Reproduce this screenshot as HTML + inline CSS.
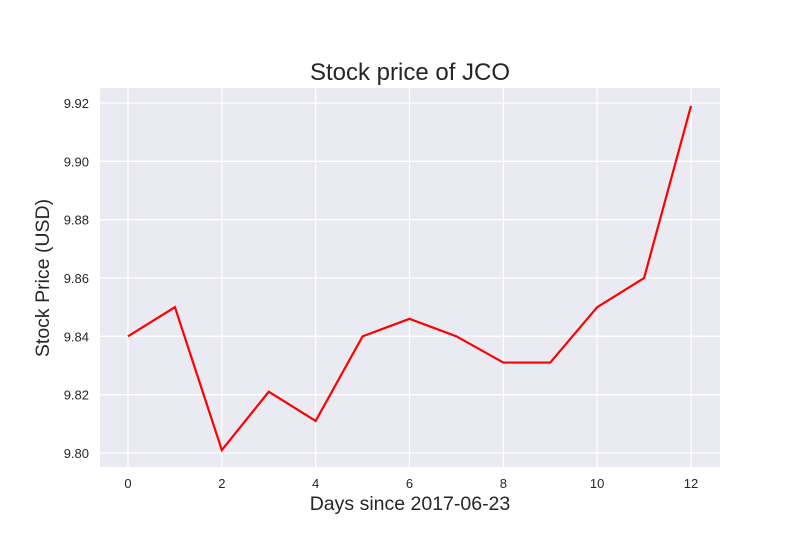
<!DOCTYPE html>
<html><head><meta charset="utf-8"><style>
body{margin:0;background:#fff;font-family:"Liberation Sans",sans-serif}
</style></head><body>
<svg width="800" height="550" xmlns="http://www.w3.org/2000/svg">
<rect x="0" y="0" width="800" height="550" fill="#fff"/>
<rect x="100" y="88" width="620" height="379" fill="#eaeaf2"/>
<g id="grid"></g>
<g id="ticks" font-size="13" fill="#262626"></g>
<polyline id="line" fill="none" stroke="#ff0000" stroke-width="2.2"/>
<text x="410" y="80" text-anchor="middle" font-size="24" fill="#262626">Stock price of JCO</text>
<text x="410" y="510" text-anchor="middle" font-size="19.5" fill="#262626">Days since 2017-06-23</text>
<text transform="translate(49,278) rotate(-90)" text-anchor="middle" font-size="19.5" fill="#262626">Stock Price (USD)</text>
</svg>
<script>
const days=[0,1,2,3,4,5,6,7,8,9,10,11,12];
const prices=[9.840,9.850,9.801,9.821,9.811,9.840,9.846,9.840,9.831,9.831,9.850,9.860,9.919];
const xTicks=[0,2,4,6,8,10,12];
const yTicks=[9.80,9.82,9.84,9.86,9.88,9.90,9.92];
const ns="http://www.w3.org/2000/svg";
function xs(v){return 128+(v-0)*(691-128)/12;}
function ys(v){return 453-(v-9.80)*(453-103)/0.12;}
const grid=document.getElementById('grid'),ticks=document.getElementById('ticks');
xTicks.forEach(t=>{
 const l=document.createElementNS(ns,'line');
 l.setAttribute('x1',xs(t));l.setAttribute('x2',xs(t));l.setAttribute('y1',88);l.setAttribute('y2',467);
 l.setAttribute('stroke','#fff');l.setAttribute('stroke-width','1.3');
 
 
 grid.appendChild(l);
 const tx=document.createElementNS(ns,'text');
 tx.setAttribute('x',xs(t));tx.setAttribute('y',488);tx.setAttribute('text-anchor','middle');tx.textContent=t;
 
 
 ticks.appendChild(tx);
});
yTicks.forEach(t=>{
 const l=document.createElementNS(ns,'line');
 l.setAttribute('x1',100);l.setAttribute('x2',720);l.setAttribute('y1',ys(t));l.setAttribute('y2',ys(t));
 l.setAttribute('stroke','#fff');l.setAttribute('stroke-width','1.3');
 
 
 grid.appendChild(l);
 const tx=document.createElementNS(ns,'text');
 tx.setAttribute('x',89);tx.setAttribute('y',ys(t)+5);tx.setAttribute('text-anchor','end');tx.textContent=t.toFixed(2);
 
 
 ticks.appendChild(tx);
});
document.getElementById('line').setAttribute('points',days.map((d,i)=>xs(d)+','+ys(prices[i])).join(' '));
</script>
</body></html>
